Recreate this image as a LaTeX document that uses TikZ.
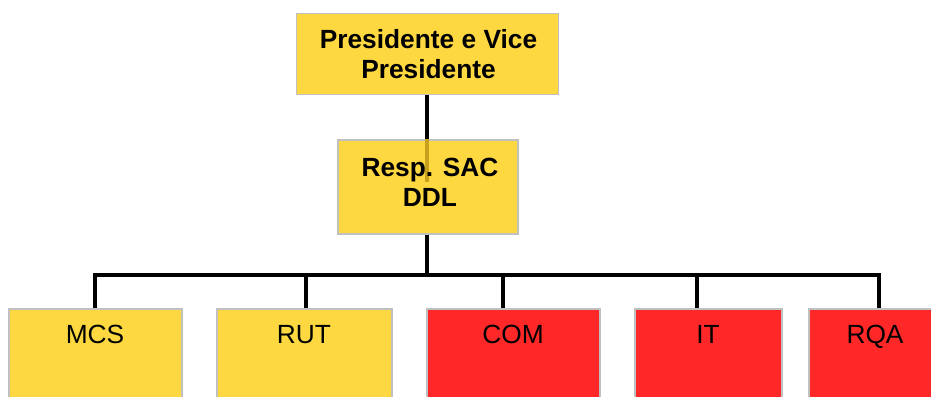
\documentclass[tikz,border=0pt]{standalone}
\usepackage{fontspec}
\setmainfont{Liberation Sans}
\definecolor{boxyellow}{RGB}{253,216,64}
\definecolor{boxred}{RGB}{255,40,40}
\definecolor{boxgray}{RGB}{192,192,192}
\definecolor{darkgold}{RGB}{200,160,30}
\begin{document}
\begin{tikzpicture}[x=1pt,y=-1pt,
  box/.style={draw=boxgray, line width=1.5pt, rectangle, inner sep=0pt},
  ybox/.style={box, fill=boxyellow},
  rbox/.style={box, fill=boxred},
  conn/.style={line width=3.3pt, black, line join=miter},
  lbl/.style={font=\fontsize{26.3}{30}\selectfont, align=center, inner sep=0pt},
  blbl/.style={lbl, font=\bfseries\fontsize{26.3}{30}\selectfont},
  slbl/.style={lbl, anchor=base}]
\useasboundingbox (0,0) rectangle (931,396);
\clip (0,0) rectangle (931,396);
% boxes (shapes)
\path node[ybox, minimum width=262, minimum height=81] (pres) at (427.5,54) {}
      node[ybox, minimum width=180, minimum height=94] (mid) at (428,187) {}
      node[ybox, minimum width=173, minimum height=120, anchor=north] (mcs) at (95.5,308) {}
      node[ybox, minimum width=175, minimum height=120, anchor=north] (rut) at (304.5,308) {}
      node[rbox, minimum width=173, minimum height=120, anchor=north] (com) at (513.5,308) {}
      node[rbox, minimum width=147, minimum height=120, anchor=north] (it) at (708.5,308) {}
      node[rbox, minimum width=132, minimum height=120, anchor=north] (rqa) at (875,308) {};
% bus coordinates
\coordinate (b0) at (427,275);
\coordinate (b1) at (95,275);
\coordinate (b2) at (306,275);
\coordinate (b3) at (503,275);
\coordinate (b4) at (697,275);
\coordinate (b5) at (879,275);
% connectors
\draw[conn] (b0 |- pres.south) -- (b0 |- mid.north);
\draw[conn] (b0 |- mid.south) -- (b0);
\draw[conn] (b1 |- mcs.north) -- (b1) -- (b5) -- (b5 |- rqa.north);
\draw[conn] (b2) -- (b2 |- rut.north);
\draw[conn] (b3) -- (b3 |- com.north);
\draw[conn] (b4) -- (b4 |- it.north);
% redraw boxes on top of connector ends
\path node[ybox, minimum width=262, minimum height=81] at (pres) {}
      node[ybox, minimum width=180, minimum height=94] at (mid) {}
      node[ybox, minimum width=173, minimum height=120] at (mcs) {}
      node[ybox, minimum width=175, minimum height=120] at (rut) {}
      node[rbox, minimum width=173, minimum height=120] at (com) {}
      node[rbox, minimum width=147, minimum height=120] at (it) {}
      node[rbox, minimum width=132, minimum height=120] at (rqa) {};
% connector seen through the middle box
\coordinate (midshade) at (427,182);
\draw[line width=3.3pt, darkgold] (b0 |- mid.north) -- (midshade);
% texts
\node[blbl] (prest) at (428.5,54) {Presidente e Vice\\Presidente};
\node[blbl] (midt) at (430,182) {Resp. SAC\\DDL};
\node[slbl] (mcst) at (95,343) {MCS};
\node[slbl] (rutt) at (304,343) {RUT};
\node[slbl] (comt) at (513,343) {COM};
\node[slbl] (itt) at (708,343) {IT};
\node[slbl] (rqat) at (875,343) {RQA};
\end{tikzpicture}
\end{document}
